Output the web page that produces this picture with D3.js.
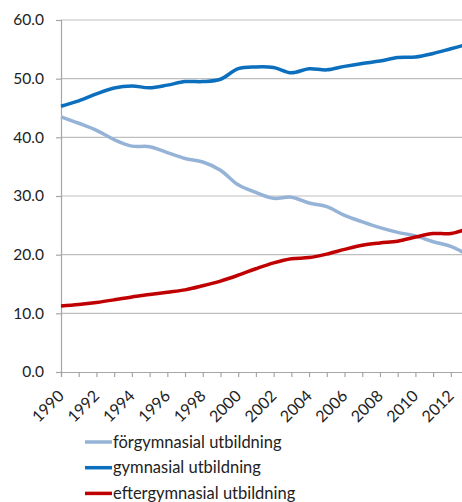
<!DOCTYPE html>
<html>
<head>
<meta charset="utf-8">
<script src="https://cdn.jsdelivr.net/npm/d3@7"></script>
<style>
  body { margin: 0; background: #fff; }
  svg { display: block; }
  text { font-family: Lato, "Open Sans", sans-serif; fill: #222; }
</style>
</head>
<body>
<div id="chart"></div>
<script>
const years = d3.range(1990, 2014);
const forgymnasial = [43.5, 42.4, 41.2, 39.6, 38.5, 38.4, 37.4, 36.4, 35.8, 34.4, 31.9, 30.6, 29.6, 29.8, 28.8, 28.2, 26.7, 25.6, 24.6, 23.8, 23.2, 22.2, 21.4, 19.9];
const gymnasial = [45.3, 46.2, 47.4, 48.4, 48.75, 48.45, 48.9, 49.5, 49.5, 49.9, 51.7, 52.0, 51.9, 51.0, 51.7, 51.5, 52.1, 52.6, 53.0, 53.6, 53.7, 54.3, 55.1, 55.9];
const eftergymnasial = [11.25, 11.5, 11.85, 12.3, 12.8, 13.2, 13.6, 14.0, 14.7, 15.5, 16.5, 17.6, 18.6, 19.3, 19.5, 20.1, 20.9, 21.6, 22.0, 22.3, 23.0, 23.6, 23.6, 24.5];
const seriesNames = ['förgymnasial utbildning', 'gymnasial utbildning', 'eftergymnasial utbildning'];
const seriesColors = ['#95b3d7', '#0b6fbd', '#c00000'];
const yTicks = [0, 10, 20, 30, 40, 50, 60];
const xLabels = d3.range(1990, 2013, 2);

const width = 462, height = 502;
const plotLeft = 61, plotTop = 20, plotBottom = 372;

const svg = d3.select('#chart')
  .append('svg')
    .attr('width', width)
    .attr('height', height);

// one category every 17.72px, 2013 falls just past the right edge
const x = d3.scaleLinear().domain([1990, 2013]).range([plotLeft, plotLeft + 23 * 17.72]);
const y = d3.scaleLinear().domain([0, 60]).range([plotBottom, plotTop]);

// gridlines
svg.append('g')
  .selectAll('line')
  .data(yTicks.slice(1)).enter().append('line')
    .attr('x1', plotLeft).attr('x2', width)
    .attr('y1', (d) => y(d)).attr('y2', (d) => y(d))
    .style('stroke', '#bfbfbf')
    .style('stroke-width', 1.2);

// y axis
const yAxis = svg.append('g')
  .attr('transform', 'translate(' + plotLeft + ',0)')
  .call(d3.axisLeft(y).tickValues(yTicks).tickSize(5).tickFormat(d3.format('.1f')));
yAxis.select('.domain').style('stroke', '#a6a6a6').style('stroke-width', 1.2);
yAxis.selectAll('.tick line').style('stroke', '#a6a6a6').style('stroke-width', 1.2);
yAxis.selectAll('.tick text').attr('x', -17).style('font-size', '15.5px');

// x axis
const xAxis = svg.append('g')
  .attr('transform', 'translate(0,' + plotBottom + ')')
  .call(d3.axisBottom(x).tickValues(years).tickSize(5).tickFormat(''));
xAxis.select('.domain').style('stroke', '#a6a6a6').style('stroke-width', 1.2);
xAxis.selectAll('.tick line').style('stroke', '#a6a6a6').style('stroke-width', 1.2);

svg.append('g')
  .selectAll('text')
  .data(xLabels).enter().append('text')
    .attr('transform', (d) => 'translate(' + (x(d) + 4) + ',' + (plotBottom + 25) + ') rotate(-45)')
    .style('text-anchor', 'end')
    .style('font-size', '16px')
    .text((d) => d);

// lines
const values = [forgymnasial, gymnasial, eftergymnasial];
const line = d3.line()
  .x((d, i) => x(years[i]))
  .y((d) => y(d))
  .curve(d3.curveCatmullRom.alpha(0.5));

svg.append('g')
  .selectAll('path')
  .data(values).enter().append('path')
    .attr('d', line)
    .style('fill', 'none')
    .style('stroke', (d, i) => seriesColors[i])
    .style('stroke-width', 3.5)
    .style('stroke-linejoin', 'round');

// legend
const legend = svg.append('g')
  .selectAll('g')
  .data(seriesNames).enter().append('g')
    .attr('transform', (d, i) => 'translate(85,' + (442 + i * 25.7) + ')');
legend.append('line')
  .attr('x1', 0).attr('x2', 27)
  .style('stroke', (d, i) => seriesColors[i])
  .style('stroke-width', 3.5);
legend.append('text')
  .attr('x', 28).attr('dy', '0.35em')
  .style('font-size', '16.5px')
  .text((d) => d);
</script>
</body>
</html>
